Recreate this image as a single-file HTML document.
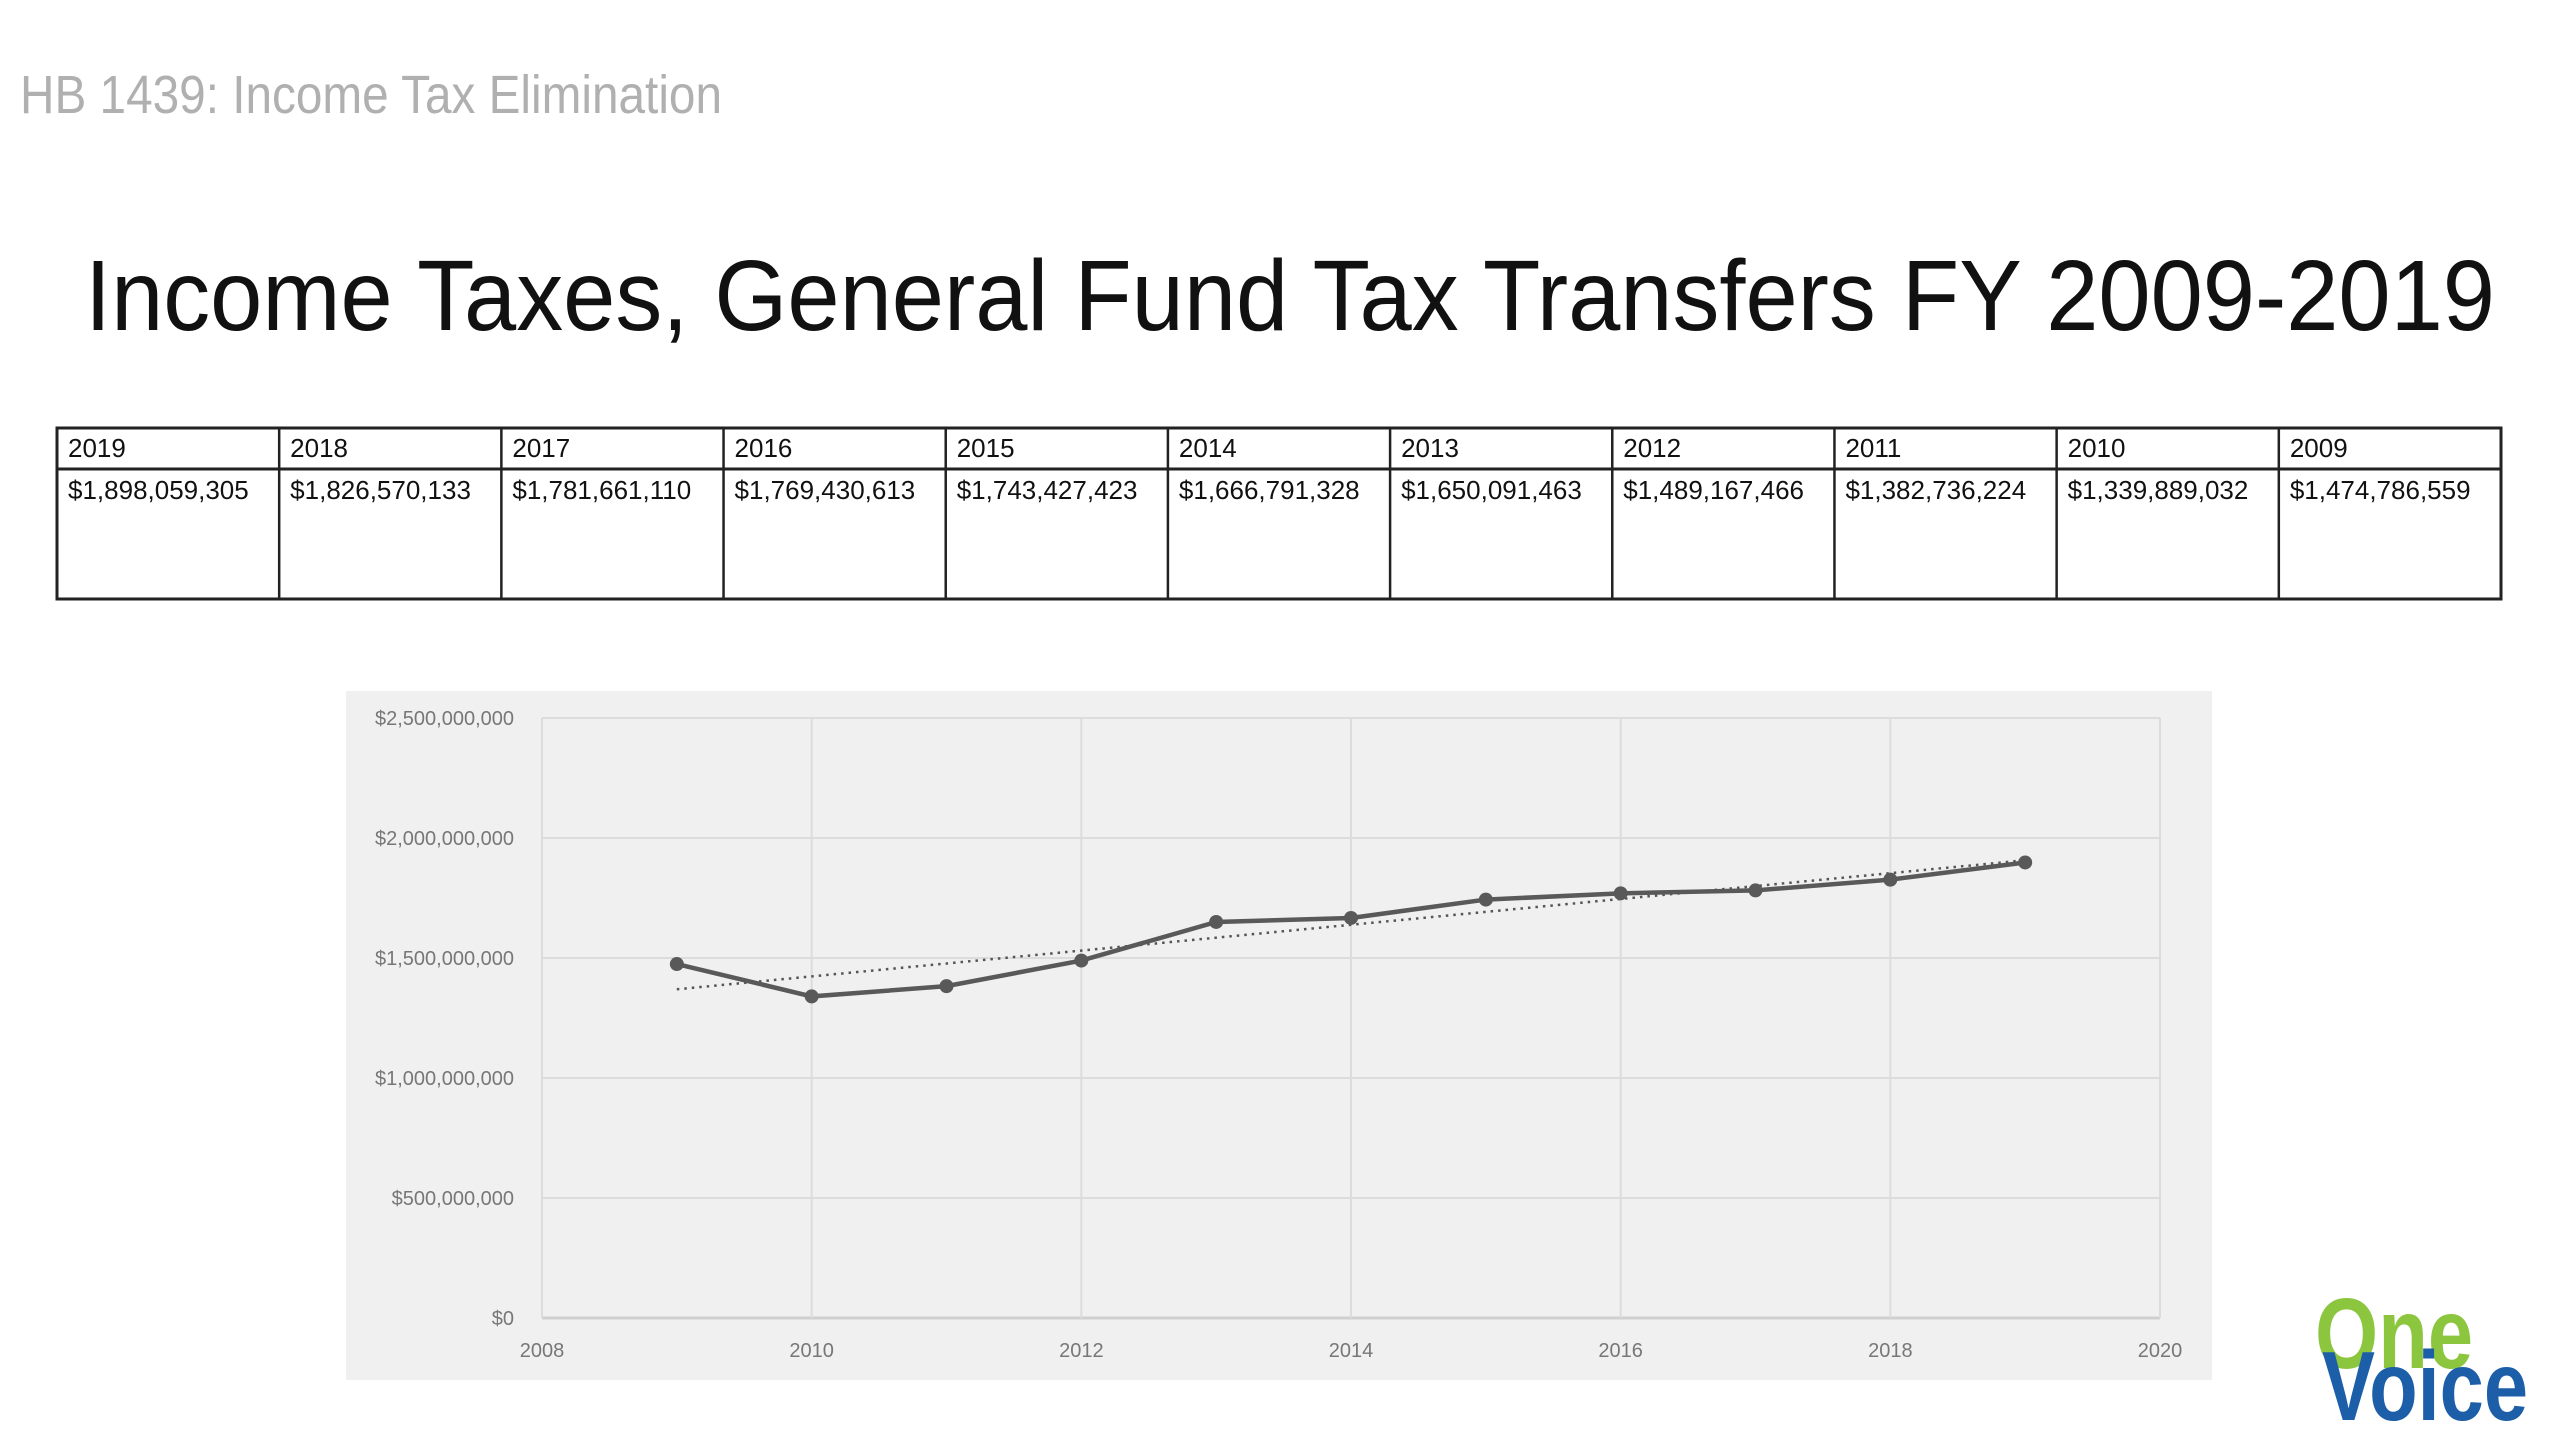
<!DOCTYPE html>
<html><head><meta charset="utf-8"><style>
html,body{margin:0;padding:0;background:#fff;}
svg{display:block;font-family:"Liberation Sans",sans-serif;}
</style></head><body>
<svg id="page" width="2560" height="1440" viewBox="0 0 2560 1440" xmlns="http://www.w3.org/2000/svg">
<text x="20" y="113" font-size="54" fill="#b0b0b0" textLength="702" lengthAdjust="spacingAndGlyphs">HB 1439: Income Tax Elimination</text>
<text x="85" y="330" font-size="100" fill="#111" textLength="2410" lengthAdjust="spacingAndGlyphs">Income Taxes, General Fund Tax Transfers FY 2009-2019</text>
<g id="table"></g>
<rect x="346" y="691" width="1866" height="689" fill="#f0f0f0"/>
<g id="chart"></g>
<g>
<text x="2315" y="1368" font-size="100" font-weight="bold" fill="#8cc63f" textLength="158" lengthAdjust="spacingAndGlyphs">One</text>
<text x="2322" y="1420" font-size="98" font-weight="bold" fill="#1c5fa8" textLength="206" lengthAdjust="spacingAndGlyphs">Voice</text>
</g>
</svg>
<script>
const years = [2019,2018,2017,2016,2015,2014,2013,2012,2011,2010,2009];
const values = [1898059305,1826570133,1781661110,1769430613,1743427423,1666791328,1650091463,1489167466,1382736224,1339889032,1474786559];
const yTicks = [0,500000000,1000000000,1500000000,2000000000,2500000000];
const yTickLabels = ["$0","$500,000,000","$1,000,000,000","$1,500,000,000","$2,000,000,000","$2,500,000,000"];
const xTicks = [2008,2010,2012,2014,2016,2018,2020];

const NS="http://www.w3.org/2000/svg";
function mk(tag,attrs,parent,txt){const e=document.createElementNS(NS,tag);for(const k in attrs)e.setAttribute(k,attrs[k]);if(txt!==undefined)e.textContent=txt;parent.appendChild(e);return e;}
function fmt(v){return "$"+v.toString().replace(/\B(?=(\d{3})+(?!\d))/g,",");}

// table
const tbl=document.getElementById('table');
const tx0=57,tx1=2501,ty0=428,ty1=599,th=41,cw=(tx1-tx0)/years.length;
years.forEach((yr,i)=>{
  const x=tx0+i*cw;
  const h=mk('text',{x:x+11,y:ty0+29,'font-size':26,fill:'#111'},tbl,String(yr));
  
  
  const c=mk('text',{x:x+11,y:ty0+71,'font-size':26,fill:'#111'},tbl,fmt(values[i]));
  
  
  if(i>0){const l=mk('line',{x1:x,y1:ty0,x2:x,y2:ty1,stroke:'#222','stroke-width':2.5},tbl);}
});
const b=mk('rect',{x:tx0,y:ty0,width:tx1-tx0,height:ty1-ty0,fill:'none',stroke:'#222','stroke-width':3},tbl);

const hl=mk('line',{x1:tx0,y1:ty0+th,x2:tx1,y2:ty0+th,stroke:'#222','stroke-width':3},tbl);


// chart
const ch=document.getElementById('chart');
const px0=542,px1=2160,py0=1318,py1=718;
const xs=v=>px0+(v-2008)/(2020-2008)*(px1-px0);
const ys=v=>py0-(v/2500000000)*(py0-py1);
yTicks.forEach((t,i)=>{
  const g=mk('line',{x1:px0,y1:ys(t),x2:px1,y2:ys(t),stroke:i==0?'#cfcfcf':'#dcdcdc','stroke-width':i==0?3:2},ch);
  
  const l=mk('text',{x:514,y:ys(t)+7,'font-size':20,fill:'#777','text-anchor':'end'},ch,yTickLabels[i]);
  
});
xTicks.forEach(t=>{
  const g=mk('line',{x1:xs(t),y1:py1,x2:xs(t),y2:py0,stroke:'#dcdcdc','stroke-width':2},ch);
  
  const l=mk('text',{x:xs(t),y:1357,'font-size':20,fill:'#777','text-anchor':'middle'},ch,String(t));
  
});
// trendline (least squares)
const n=years.length;let mx=0,my=0;years.forEach((y,i)=>{mx+=y;my+=values[i];});mx/=n;my/=n;
let sxy=0,sxx=0;years.forEach((y,i)=>{sxy+=(y-mx)*(values[i]-my);sxx+=(y-mx)*(y-mx);});
const slope=sxy/sxx,ic=my-slope*mx;
const ymin=Math.min(...years),ymax=Math.max(...years);
const tr=mk('line',{x1:xs(ymin),y1:ys(ic+slope*ymin),x2:xs(ymax),y2:ys(ic+slope*ymax),stroke:'#555','stroke-width':2.5,'stroke-dasharray':'2.5 5'},ch);

const idx=years.map((y,i)=>i).sort((a,b)=>years[a]-years[b]);
const pts=idx.map(i=>xs(years[i])+","+ys(values[i])).join(" ");
const pl=mk('polyline',{points:pts,fill:'none',stroke:'#595959','stroke-width':4.5},ch);

idx.forEach(i=>{
  const c=mk('circle',{cx:xs(years[i]),cy:ys(values[i]),r:7,fill:'#595959'},ch);
  
  
});
</script>
</body></html>
